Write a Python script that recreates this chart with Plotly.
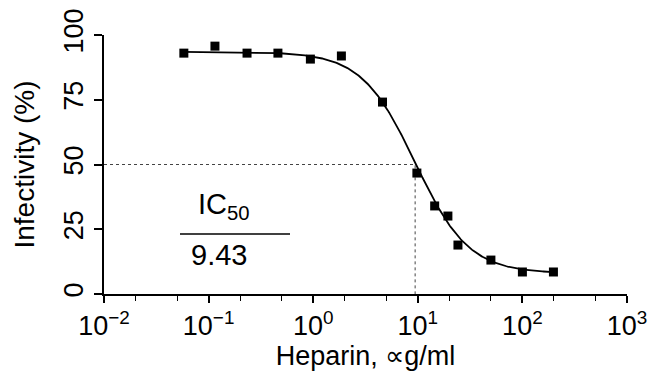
import numpy as np
import plotly.graph_objects as go

# Measured data (heparin concentration, µg/ml) and infectivity (%)
conc = [0.058, 0.115, 0.233, 0.46, 0.94, 1.86, 4.6, 9.8, 14.5, 19.4, 24.2, 50, 100, 198]
infect = [93.0, 95.7, 93.0, 93.0, 90.7, 91.9, 74.1, 46.7, 34.0, 30.1, 18.9, 13.1, 8.5, 8.5]

# Four-parameter logistic fit parameters
fit_top = 93.5
fit_bottom = 8.0
ic50 = 9.43
hill = 1.7

x_tickvals = [0.01, 0.1, 1, 10, 100, 1000]
x_ticktext = ["10<sup>−2</sup>", "10<sup>−1</sup>", "10<sup>0</sup>", "10<sup>1</sup>", "10<sup>2</sup>", "10<sup>3</sup>"]
y_tickvals = [0, 25, 50, 75, 100]
y_ticktext = ["0", "25", "50", "75", "100"]

FONT = "Liberation Sans, Arial, Helvetica, sans-serif"

xfit = np.logspace(np.log10(min(conc)), np.log10(max(conc)), 300)
yfit = fit_bottom + (fit_top - fit_bottom) / (1 + (xfit / ic50) ** hill)

fig = go.Figure()

# Dotted guide lines at 50 % / IC50
fig.add_trace(go.Scatter(
    x=[x_tickvals[0], ic50, ic50], y=[50, 50, 0], mode="lines",
    line=dict(color="#444444", width=1, dash="dot"),
    hoverinfo="skip", showlegend=False))

fig.add_trace(go.Scatter(
    x=xfit, y=yfit, mode="lines",
    line=dict(color="black", width=1.8),
    showlegend=False))

fig.add_trace(go.Scatter(
    x=conc, y=infect, mode="markers",
    marker=dict(symbol="square", size=9, color="black"),
    showlegend=False))

fig.update_layout(
    width=648, height=371,
    margin=dict(l=104, r=21, t=35, b=77, autoexpand=False),
    paper_bgcolor="white", plot_bgcolor="white",
    font=dict(family=FONT, color="black", size=27),
    xaxis=dict(
        type="log", range=[-2, 3],
        tickvals=x_tickvals, ticktext=x_ticktext,
        ticks="outside", ticklen=7, tickwidth=1.5, tickcolor="black",
        minor=dict(ticks="outside", ticklen=5, tickwidth=1.2, tickcolor="black", showgrid=False),
        showline=True, linecolor="black", linewidth=2,
        showgrid=False, zeroline=False,
        tickfont=dict(family=FONT, size=27, color="black"),
        title=dict(text="Heparin, ∝g/ml", font=dict(family=FONT, size=27, color="black"), standoff=6),
    ),
    yaxis=dict(
        range=[0, 100],
        tickvals=y_tickvals, ticktext=y_ticktext, tickangle=-90,
        ticks="outside", ticklen=8, tickwidth=1.5, tickcolor="black",
        showline=True, linecolor="black", linewidth=2,
        showgrid=False, zeroline=False,
        tickfont=dict(family=FONT, size=27, color="black"),
        title=dict(text="Infectivity (%)", font=dict(family=FONT, size=28, color="black"), standoff=16),
    ),
)

fig.add_annotation(x=224, y=206, xref="paper", yref="paper", text="IC<sub>50</sub>",
                   xanchor="center", yanchor="middle",
                   showarrow=False, font=dict(family=FONT, size=29, color="black"))
fig.add_annotation(x=219, y=255, xref="paper", yref="paper", text="9.43",
                   xanchor="center", yanchor="middle",
                   showarrow=False, font=dict(family=FONT, size=29, color="black"))
fig.add_shape(type="line", xref="paper", yref="paper", x0=180, x1=290, y0=234, y1=234,
              line=dict(color="black", width=1.5))

# Convert pixel-positioned annotation/shape coordinates to paper fractions
L, R, T, B, W, H = 104, 21, 35, 77, 648, 371
pw, ph = W - L - R, H - T - B
for a in fig.layout.annotations:
    a.x = (a.x - L) / pw
    a.y = 1 - (a.y - T) / ph
for s in fig.layout.shapes:
    s.x0 = (s.x0 - L) / pw
    s.x1 = (s.x1 - L) / pw
    s.y0 = 1 - (s.y0 - T) / ph
    s.y1 = 1 - (s.y1 - T) / ph

fig.write_html("out.html")
